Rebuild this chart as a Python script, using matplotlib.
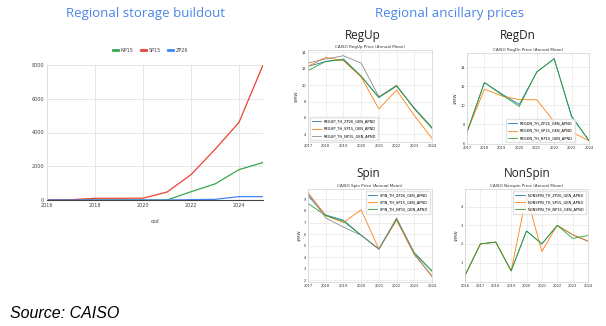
import matplotlib
matplotlib.use("Agg")
import matplotlib.pyplot as plt

# storage buildout (MW) by zone
build_years = [2016, 2017, 2018, 2019, 2020, 2021, 2022, 2023, 2024, 2025]
np15_mw = [0, 0, 0, 0, 0, 0, 490, 950, 1800, 2220]
sp15_mw = [0, 20, 100, 100, 110, 470, 1500, 3000, 4600, 8000]
zp26_mw = [0, 0, 0, 0, 0, 0, 20, 40, 200, 200]

# ancillary prices ($/MW), annual mean
price_years = [2017, 2018, 2019, 2020, 2021, 2022, 2023, 2024]
regup_zp26 = [12.3, 12.9, 13.2, 11.1, 8.5, 9.9, 7.2, 4.8]
regup_sp15 = [12.3, 13.4, 13.0, 11.0, 7.1, 9.4, 6.3, 3.5]
regup_np15 = [12.7, 13.2, 13.6, 12.7, 8.6, 10.0, 7.1, 4.7]
regup_extra = [11.8, 12.9, 13.1, 11.1, 8.5, 9.9, 7.2, 4.8]

regdn_zp26 = [7.2, 12.4, 11.2, 10.1, 13.5, 14.9, 8.9, 6.3]
regdn_sp15 = [7.2, 11.7, 11.0, 10.6, 10.6, 8.3, 7.2, 6.3]
regdn_np15 = [7.2, 12.4, 11.1, 9.9, 13.5, 14.9, 8.8, 6.3]

spin_zp26 = [9.3, 7.65, 7.2, 5.9, 4.7, 7.3, 4.3, 2.8]
spin_sp15 = [9.6, 7.6, 7.0, 8.1, 4.7, 7.2, 4.2, 2.4]
spin_np15 = [8.65, 7.6, 7.1, 5.9, 4.7, 7.3, 4.4, 2.8]
spin_extra = [9.5, 7.4, 6.6, 5.9, 4.7, 7.4, 4.3, 2.3]

nonspin_years = [2016, 2017, 2018, 2019, 2020, 2021, 2022, 2023, 2024]
nonspin_zp26 = [0.3, 2.0, 2.1, 0.55, 2.7, 2.0, 3.0, 2.5, 2.15]
nonspin_sp15 = [0.3, 2.0, 2.1, 0.55, 4.6, 1.6, 3.0, 2.5, 2.15]
nonspin_np15 = [0.3, 2.0, 2.1, 0.55, 2.7, 2.0, 3.0, 2.3, 2.45]

W, H = 606, 326
fig = plt.figure(figsize=(W / 100, H / 100), dpi=100)
fig.patch.set_facecolor("white")


def px_axes(l, t, r, b):
    return fig.add_axes([l / W, 1 - b / H, (r - l) / W, (b - t) / H])


title_blue = "#4a86e8"
fig.text(145 / W, 1 - 13 / H, "Regional storage buildout", color=title_blue,
         fontsize=9.5, family="Open Sans", ha="center", va="center")
fig.text(450 / W, 1 - 13 / H, "Regional ancillary prices", color=title_blue,
         fontsize=9.5, family="Open Sans", ha="center", va="center")
fig.text(10 / W, 1 - 313 / H, "Source: CAISO", fontsize=11.5, style="italic",
         family="Liberation Sans", ha="left", va="center")

# ---- left chart
ax = px_axes(47, 65, 263, 200)
ax.plot(build_years, np15_mw, color="#34a853", lw=0.9, label="NP15")
ax.plot(build_years, sp15_mw, color="#ea4335", lw=0.9, label="SP15")
ax.plot(build_years, zp26_mw, color="#4285f4", lw=0.9, label="ZP26")
ax.set_xlim(2016, 2025)
ax.set_ylim(0, 8000)
ax.set_xticks([2016, 2018, 2020, 2022, 2024])
ax.set_yticks([0, 2000, 4000, 6000, 8000])
ax.grid(color="#e2e2e2", lw=0.6)
ax.set_axisbelow(True)
for s in ["top", "right"]:
    ax.spines[s].set_visible(False)
ax.spines["left"].set_color("#dddddd")
ax.spines["left"].set_linewidth(0.6)
ax.spines["bottom"].set_color("#444444")
ax.spines["bottom"].set_linewidth(0.8)
ax.tick_params(length=0, labelsize=3.5, colors="#444444", pad=2)
ax.set_xlabel("cod", fontsize=3.5, color="#444444", labelpad=8)
ax.legend(loc="lower center", bbox_to_anchor=(0.48, 1.06), ncol=3,
          frameon=False, fontsize=3.5, handlelength=1.0, columnspacing=1.6,
          handletextpad=0.5)
for t in ax.get_legend().get_texts():
    t.set_color("#444444")
for h in ax.get_legend().get_lines():
    h.set_linewidth(2)

# ---- small price charts
blue, orange, green, gray = "#1f77b4", "#ff7f0e", "#2ca02c", "#8c8c8c"


def style_small(a, title, ylim, yticks, xs):
    a.set_title(title, fontsize=3, pad=1.5, color="#333333")
    a.set_xlim(xs[0], xs[-1])
    a.set_ylim(*ylim)
    a.set_xticks(xs)
    a.set_yticks(yticks)
    a.grid(color="#e8e8e8", lw=0.5)
    a.set_axisbelow(True)
    for s in a.spines.values():
        s.set_color("#d0d0d0")
        s.set_linewidth(0.5)
    a.tick_params(length=0, labelsize=2.6, colors="#333333", pad=1.5)
    a.set_ylabel("$/MW", fontsize=3, color="#333333", labelpad=2)


big = dict(fontsize=8.5, family="Open Sans", ha="center", va="center",
           color="#222222")
lw = 0.6

fig.text(363 / W, 1 - 35 / H, "RegUp", **big)
a1 = px_axes(308, 50, 432, 142)
a1.plot(price_years, regup_zp26, color=blue, lw=lw, label="REGUP_TH_ZP26_GEN_APND")
a1.plot(price_years, regup_sp15, color=orange, lw=lw, label="REGUP_TH_SP15_GEN_APND")
a1.plot(price_years, regup_np15, color=gray, lw=lw, label="REGUP_TH_NP15_GEN_APND")
a1.plot(price_years, regup_extra, color=green, lw=lw)
style_small(a1, "CAISO RegUp Price (Annual Mean)", (3.06, 14.3),
            [4, 6, 8, 10, 12, 14], price_years)
a1.legend(loc="lower left", fontsize=2.6, frameon=True, handlelength=2.5,
          borderpad=0.6, labelspacing=0.9, edgecolor="#dddddd", fancybox=False)

fig.text(518 / W, 1 - 35 / H, "RegDn", **big)
a2 = px_axes(467, 53, 589, 144)
a2.plot(price_years, regdn_zp26, color=blue, lw=lw, label="REGDN_TH_ZP26_GEN_APND")
a2.plot(price_years, regdn_sp15, color=orange, lw=lw, label="REGDN_TH_SP15_GEN_APND")
a2.plot(price_years, regdn_np15, color=green, lw=lw, label="REGDN_TH_NP15_GEN_APND")
style_small(a2, "CAISO RegDn Price (Annual Mean)", (5.95, 15.5),
            [6, 8, 10, 12, 14], price_years)
a2.legend(loc="lower center", bbox_to_anchor=(0.6, 0.0), fontsize=2.6,
          frameon=True, handlelength=2.5, borderpad=0.6, labelspacing=0.9,
          edgecolor="#dddddd", fancybox=False)

fig.text(368 / W, 1 - 174 / H, "Spin", **big)
a3 = px_axes(308, 189, 432, 282)
a3.plot(price_years, spin_zp26, color=blue, lw=lw, label="SPIN_TH_ZP26_GEN_APND")
a3.plot(price_years, spin_sp15, color=orange, lw=lw, label="SPIN_TH_SP15_GEN_APND")
a3.plot(price_years, spin_np15, color=green, lw=lw, label="SPIN_TH_NP15_GEN_APND")
a3.plot(price_years, spin_extra, color=gray, lw=lw)
style_small(a3, "CAISO Spin Price (Annual Mean)", (1.85, 9.9),
            [2, 3, 4, 5, 6, 7, 8, 9], price_years)
a3.legend(loc="upper right", fontsize=2.6, frameon=True, handlelength=2.5,
          borderpad=0.6, labelspacing=0.9, edgecolor="#dddddd", fancybox=False)

fig.text(527 / W, 1 - 174 / H, "NonSpin", **big)
a4 = px_axes(465, 189, 588, 282)
a4.plot(nonspin_years, nonspin_zp26, color=blue, lw=lw, label="NONSPIN_TH_ZP26_GEN_APND")
a4.plot(nonspin_years, nonspin_sp15, color=orange, lw=lw, label="NONSPIN_TH_SP15_GEN_APND")
a4.plot(nonspin_years, nonspin_np15, color=green, lw=lw, label="NONSPIN_TH_NP15_GEN_APND")
style_small(a4, "CAISO Nonspin Price (Annual Mean)", (-0.05, 4.96),
            [1, 2, 3, 4], nonspin_years)
a4.legend(loc="upper right", fontsize=2.6, frameon=True, handlelength=2.5,
          borderpad=0.6, labelspacing=0.9, edgecolor="#dddddd", fancybox=False)

fig.savefig("out.png", dpi=100)
